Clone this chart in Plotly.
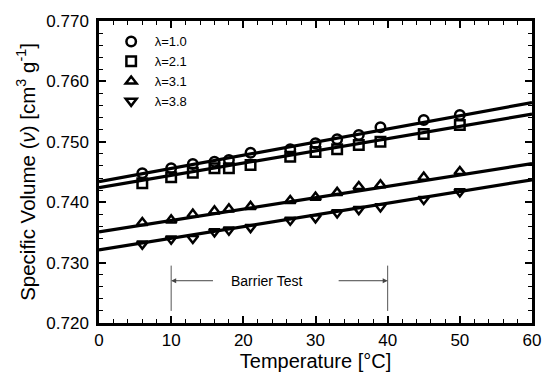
import plotly.graph_objects as go

T = [6, 10, 13, 16, 18, 21, 26.5, 30, 33, 36, 39, 45, 50]
v_l10 = [0.74478, 0.74561, 0.74632, 0.74671, 0.74699, 0.74820, 0.74876, 0.74975,
         0.75041, 0.75113, 0.75240, 0.75361, 0.75444]
v_l21 = [0.74313, 0.74412, 0.74488, 0.74561, 0.74561, 0.74616, 0.74753, 0.74830,
         0.74876, 0.74947, 0.75002, 0.75129, 0.75278]
v_l31 = [0.73661, 0.73705, 0.73800, 0.73854, 0.73887, 0.73926, 0.74025, 0.74081,
         0.74158, 0.74257, 0.74285, 0.74412, 0.74505]
v_l38 = [0.73308, 0.73391, 0.73402, 0.73512, 0.73540, 0.73584, 0.73705, 0.73745,
         0.73826, 0.73882, 0.73926, 0.74048, 0.74174]

labels = ["λ=1.0", "λ=2.1", "λ=3.1", "λ=3.8"]
symbols = ["circle-open", "square-open", "triangle-up-open", "triangle-down-open"]
series = [v_l10, v_l21, v_l31, v_l38]
# linear fits: value at 0 °C and at 60 °C
fit_v0 = [0.7434, 0.7424, 0.7351, 0.7321]
fit_v60 = [0.7565, 0.7546, 0.7464, 0.7437]
fit_T = [0, 60]

barrier_T = [10, 40]

FONT = "Liberation Sans, Arial, Helvetica, sans-serif"

fig = go.Figure()
for v0, v60 in zip(fit_v0, fit_v60):
    fig.add_trace(go.Scatter(x=fit_T, y=[v0, v60], mode="lines",
                             line=dict(color="black", width=3.2),
                             showlegend=False, hoverinfo="skip", cliponaxis=False))
for lab, sym, ys in zip(labels, symbols, series):
    fig.add_trace(go.Scatter(x=T, y=ys, mode="markers", name=lab,
                             marker=dict(symbol=sym, size=9.5, color="black",
                                         line=dict(color="black", width=2.5))))

# Barrier test annotation
for bt in barrier_T:
    fig.add_shape(type="line", x0=bt, x1=bt, y0=0.7220, y1=0.7295,
                  line=dict(color="#555555", width=1))
fig.add_annotation(x=23.2, y=0.7270, text="Barrier Test", showarrow=False,
                   font=dict(family=FONT, size=14, color="black"))
fig.add_annotation(x=barrier_T[0], y=0.7270, ax=16, ay=0.7270, axref="x", ayref="y",
                   xref="x", yref="y", text="", showarrow=True, arrowhead=2,
                   arrowsize=1, arrowwidth=1, arrowcolor="#444444")
fig.add_annotation(x=barrier_T[1], y=0.7270, ax=33, ay=0.7270, axref="x", ayref="y",
                   xref="x", yref="y", text="", showarrow=True, arrowhead=2,
                   arrowsize=1, arrowwidth=1, arrowcolor="#444444")

axis_common = dict(showline=True, linecolor="black", linewidth=2.5, mirror="ticks",
                   ticks="inside", ticklen=7, tickwidth=1.5, tickcolor="black",
                   showgrid=False, zeroline=False, automargin=False,
                   tickfont=dict(family=FONT, size=17, color="black"))

fig.update_xaxes(range=[0, 60], tick0=0, dtick=10,
                 minor=dict(ticks="inside", dtick=2, ticklen=4, tickcolor="black", tickwidth=1.2),
                 title=dict(text="Temperature [°C]", font=dict(family=FONT, size=20, color="black"),
                            standoff=4),
                 **axis_common)
fig.update_yaxes(range=[0.720, 0.770], tick0=0.72, dtick=0.01, tickformat=".3f",
                 minor=dict(ticks="inside", dtick=0.002, ticklen=4, tickcolor="black", tickwidth=1.2),
                 title=dict(text="Specific Volume (<i>ν</i>) [cm<sup>3</sup> g<sup>-1</sup>]",
                            font=dict(family=FONT, size=20.5, color="black"), standoff=6),
                 ticklabelstandoff=4,
                 **axis_common)

fig.update_layout(width=544, height=377, margin=dict(l=99, r=12, t=21, b=54),
                  paper_bgcolor="white", plot_bgcolor="white",
                  font=dict(family=FONT, color="black"),
                  legend=dict(x=0.02, y=0.982, xanchor="left", yanchor="top",
                              bgcolor="rgba(0,0,0,0)", font=dict(family=FONT, size=13),
                              tracegroupgap=0, itemwidth=37))

fig.write_html("out.html")
